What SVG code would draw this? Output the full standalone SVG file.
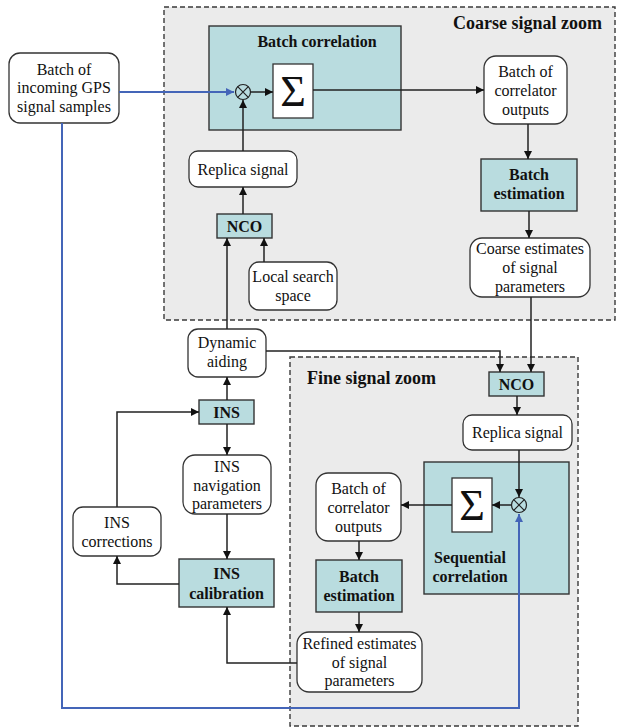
<svg xmlns="http://www.w3.org/2000/svg" width="617" height="728" viewBox="0 0 617 728">
  <style>
    .zone { fill: #ebebeb; stroke: #3a3a3a; stroke-width: 1.4; stroke-dasharray: 5 3; }
    .proc { fill: #b9dcdf; stroke: #333; stroke-width: 1.4; }
    .data { fill: #ffffff; stroke: #333; stroke-width: 1.3; }
    .sum  { fill: #ffffff; stroke: #333; stroke-width: 1.3; }
    .mix  { fill: none; stroke: #222; stroke-width: 1.2; }
    text { font-family: "Liberation Serif", "Times New Roman", serif; fill: #111; text-anchor: middle; }
    .t  { font-size: 16px; }
    .b  { font-size: 16px; font-weight: bold; }
    .zt { font-size: 18px; font-weight: bold; text-anchor: start; }
    .sig { font-size: 44px; }
    .wire { fill: none; stroke: #222; stroke-width: 1.5; }
    .gps  { fill: none; stroke: #4465b8; stroke-width: 2; }
  </style>
  <defs>
    <marker id="ah" markerWidth="9" markerHeight="8" refX="8" refY="4" orient="auto" markerUnits="userSpaceOnUse">
      <path d="M0,0 L8,4 L0,8 z" fill="#111"/>
    </marker>
    <marker id="ahb" markerWidth="9" markerHeight="8" refX="8" refY="4" orient="auto" markerUnits="userSpaceOnUse">
      <path d="M0,0 L8,4 L0,8 z" fill="#4465b8"/>
    </marker>
  </defs>

  <!-- zoom regions -->
  <g id="coarse-zone">
    <rect class="zone" x="164" y="7" width="451" height="313"/>
    <text class="zt" x="453" y="29">Coarse signal zoom</text>
  </g>
  <g id="fine-zone">
    <rect class="zone" x="290" y="357" width="288" height="369"/>
    <text class="zt" x="307" y="384">Fine signal zoom</text>
  </g>

  <!-- input samples -->
  <g id="gps-samples">
    <rect class="data" x="9" y="53" width="110" height="70" rx="11"/>
    <text class="t" x="64" y="75">Batch of</text>
    <text class="t" x="64" y="93">incoming GPS</text>
    <text class="t" x="64" y="112">signal samples</text>
  </g>

  <!-- coarse stage -->
  <g id="batch-correlation">
    <rect class="proc" x="209" y="26" width="192" height="104"/>
    <text class="b" x="317" y="47">Batch correlation</text>
    <circle class="mix" cx="243" cy="92" r="7.5"/>
    <path class="mix" d="M237.7,86.7 L248.3,97.3 M248.3,86.7 L237.7,97.3"/>
    <rect class="sum" x="273" y="64" width="40" height="54"/>
    <text class="sig" x="293" y="106">Σ</text>
  </g>
  <g id="coarse-replica">
    <rect class="data" x="189" y="151" width="108" height="36" rx="9"/>
    <text class="t" x="243" y="175">Replica signal</text>
  </g>
  <g id="coarse-nco">
    <rect class="proc" x="217" y="214" width="55" height="24"/>
    <text class="b" x="244.5" y="232">NCO</text>
  </g>
  <g id="local-search">
    <rect class="data" x="249" y="262" width="88" height="48" rx="10"/>
    <text class="t" x="293" y="282">Local search</text>
    <text class="t" x="293" y="301">space</text>
  </g>
  <g id="coarse-outputs">
    <rect class="data" x="484" y="56" width="83" height="68" rx="12"/>
    <text class="t" x="525.5" y="77">Batch of</text>
    <text class="t" x="525.5" y="96">correlator</text>
    <text class="t" x="525.5" y="115">outputs</text>
  </g>
  <g id="coarse-estimation">
    <rect class="proc" x="481" y="159" width="96" height="52"/>
    <text class="b" x="529" y="180">Batch</text>
    <text class="b" x="529" y="199">estimation</text>
  </g>
  <g id="coarse-estimates">
    <rect class="data" x="470" y="238" width="120" height="59" rx="12"/>
    <text class="t" x="530" y="254">Coarse estimates</text>
    <text class="t" x="530" y="273">of signal</text>
    <text class="t" x="530" y="292">parameters</text>
  </g>

  <!-- inertial aiding -->
  <g id="dynamic-aiding">
    <rect class="data" x="188" y="329" width="78" height="48" rx="10"/>
    <text class="t" x="227" y="348">Dynamic</text>
    <text class="t" x="227" y="367">aiding</text>
  </g>
  <g id="ins">
    <rect class="proc" x="199" y="400" width="55" height="24"/>
    <text class="b" x="226.5" y="418">INS</text>
  </g>
  <g id="ins-navigation">
    <rect class="data" x="183" y="455" width="88" height="59" rx="12"/>
    <text class="t" x="227" y="472">INS</text>
    <text class="t" x="227" y="491">navigation</text>
    <text class="t" x="227" y="509">parameters</text>
  </g>
  <g id="ins-corrections">
    <rect class="data" x="73" y="507" width="88" height="49" rx="10"/>
    <text class="t" x="117" y="528">INS</text>
    <text class="t" x="117" y="547">corrections</text>
  </g>
  <g id="ins-calibration">
    <rect class="proc" x="179" y="559" width="95" height="48"/>
    <text class="b" x="226.5" y="579">INS</text>
    <text class="b" x="226.5" y="599">calibration</text>
  </g>

  <!-- fine stage -->
  <g id="fine-nco">
    <rect class="proc" x="489" y="372" width="55" height="24"/>
    <text class="b" x="516.5" y="390">NCO</text>
  </g>
  <g id="fine-replica">
    <rect class="data" x="463" y="415" width="109" height="35" rx="9"/>
    <text class="t" x="517.5" y="438">Replica signal</text>
  </g>
  <g id="sequential-correlation">
    <rect class="proc" x="424" y="462" width="145" height="132"/>
    <rect class="sum" x="452" y="478" width="40" height="54"/>
    <text class="sig" x="472" y="520">Σ</text>
    <circle class="mix" cx="519" cy="505" r="7.5"/>
    <path class="mix" d="M513.7,499.7 L524.3,510.3 M524.3,499.7 L513.7,510.3"/>
    <text class="b" x="470" y="563">Sequential</text>
    <text class="b" x="470" y="582">correlation</text>
  </g>
  <g id="fine-outputs">
    <rect class="data" x="316" y="473" width="85" height="68" rx="12"/>
    <text class="t" x="358.5" y="494">Batch of</text>
    <text class="t" x="358.5" y="513">correlator</text>
    <text class="t" x="358.5" y="532">outputs</text>
  </g>
  <g id="fine-estimation">
    <rect class="proc" x="316" y="560" width="86" height="52"/>
    <text class="b" x="359" y="582">Batch</text>
    <text class="b" x="359" y="601">estimation</text>
  </g>
  <g id="refined-estimates">
    <rect class="data" x="297" y="632" width="125" height="60" rx="12"/>
    <text class="t" x="359.5" y="649">Refined estimates</text>
    <text class="t" x="359.5" y="668">of signal</text>
    <text class="t" x="359.5" y="686">parameters</text>
  </g>

  <!-- connectors -->
  <g id="connectors">
    <path class="gps" d="M119,92 H234" marker-end="url(#ahb)"/>
    <path class="gps" d="M62,123 V708 H519 V514" marker-end="url(#ahb)"/>
    <path class="wire" d="M251,92 H273" marker-end="url(#ah)"/>
    <path class="wire" d="M313,90 H484" marker-end="url(#ah)"/>
    <path class="wire" d="M243,151 V100" marker-end="url(#ah)"/>
    <path class="wire" d="M243,214 V187" marker-end="url(#ah)"/>
    <path class="wire" d="M227,329 V238" marker-end="url(#ah)"/>
    <path class="wire" d="M264,262 V238" marker-end="url(#ah)"/>
    <path class="wire" d="M528,124 V159" marker-end="url(#ah)"/>
    <path class="wire" d="M529,211 V238" marker-end="url(#ah)"/>
    <path class="wire" d="M531,297 V372" marker-end="url(#ah)"/>
    <path class="wire" d="M266,351 H500 V372" marker-end="url(#ah)"/>
    <path class="wire" d="M227,400 V377" marker-end="url(#ah)"/>
    <path class="wire" d="M227,424 V455" marker-end="url(#ah)"/>
    <path class="wire" d="M227,514 V559" marker-end="url(#ah)"/>
    <path class="wire" d="M179,584 H117 V556" marker-end="url(#ah)"/>
    <path class="wire" d="M117,507 V412 H199" marker-end="url(#ah)"/>
    <path class="wire" d="M297,663 H227 V607" marker-end="url(#ah)"/>
    <path class="wire" d="M517,396 V415" marker-end="url(#ah)"/>
    <path class="wire" d="M519,450 V497" marker-end="url(#ah)"/>
    <path class="wire" d="M511,505 H492" marker-end="url(#ah)"/>
    <path class="wire" d="M452,505 H401" marker-end="url(#ah)"/>
    <path class="wire" d="M359,541 V560" marker-end="url(#ah)"/>
    <path class="wire" d="M359,612 V632" marker-end="url(#ah)"/>
  </g>
</svg>
